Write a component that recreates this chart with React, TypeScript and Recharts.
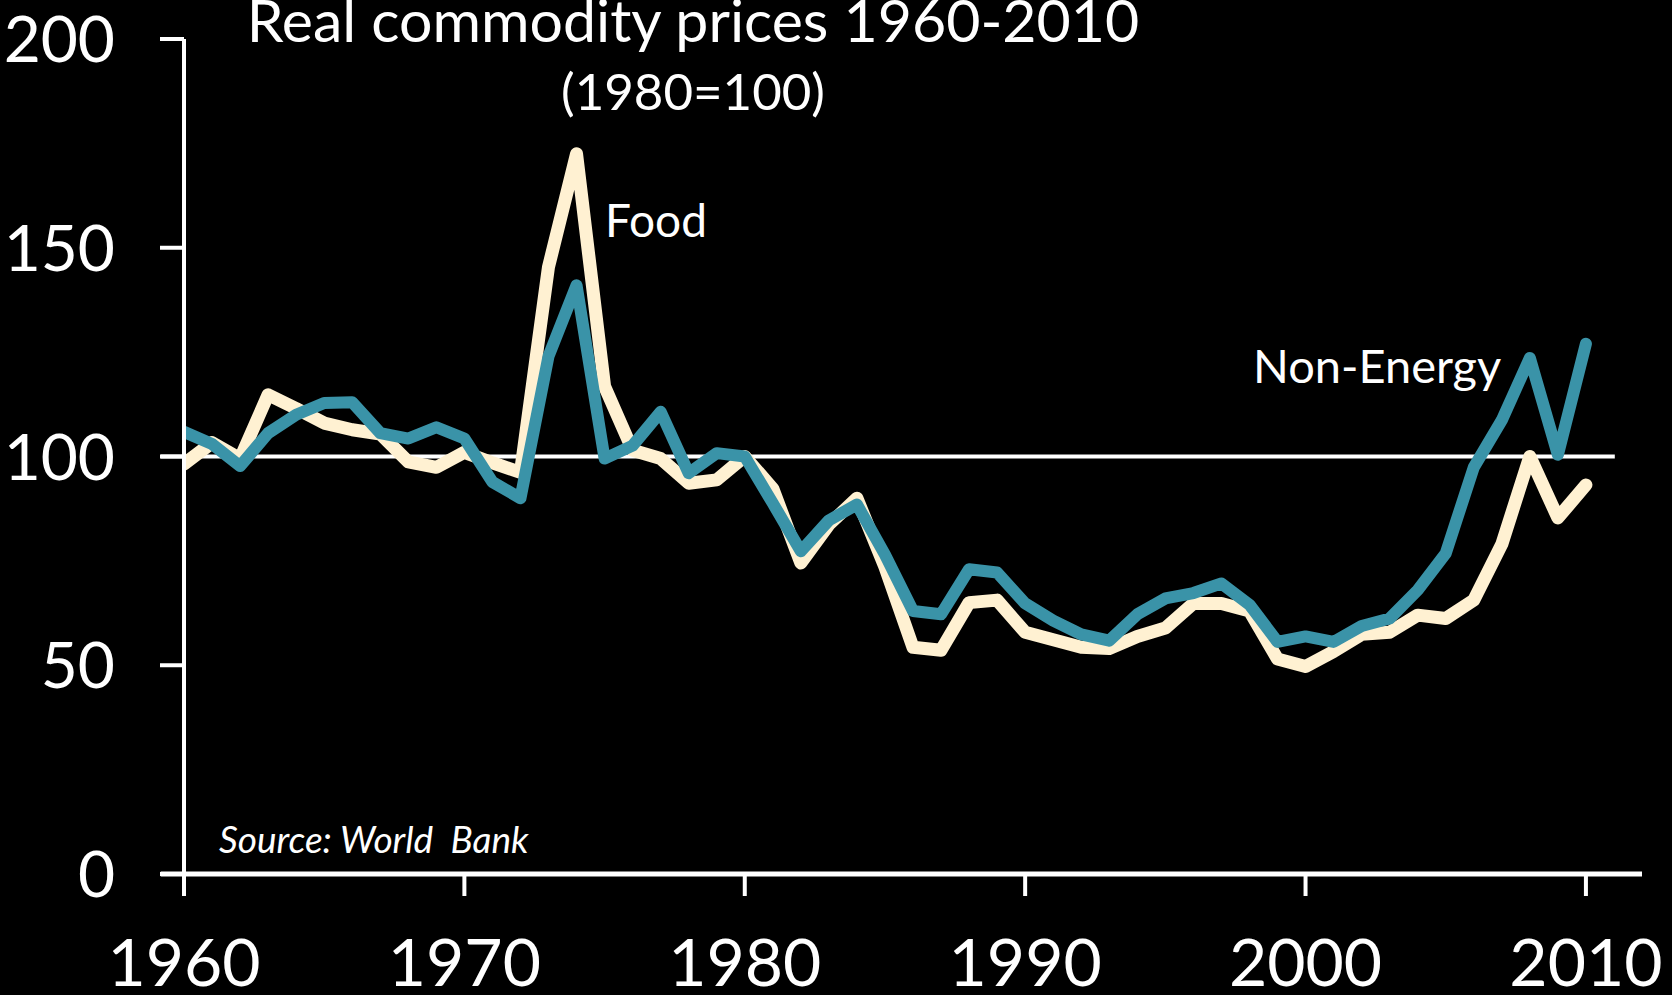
import React from "react";
import { LineChart, Line, XAxis, YAxis, ReferenceLine } from "recharts";

const years = [
  1960, 1961, 1962, 1963, 1964, 1965, 1966, 1967, 1968, 1969,
  1970, 1971, 1972, 1973, 1974, 1975, 1976, 1977, 1978, 1979,
  1980, 1981, 1982, 1983, 1984, 1985, 1986, 1987, 1988, 1989,
  1990, 1991, 1992, 1993, 1994, 1995, 1996, 1997, 1998, 1999,
  2000, 2001, 2002, 2003, 2004, 2005, 2006, 2007, 2008, 2009, 2010,
];

const food = [
  98.2, 103.3, 99.5, 114.8, 111.5, 108, 106.4, 105.4, 98.7, 97.4,
  101, 98.5, 96.2, 145.4, 172.5, 116.8, 101.5, 99.5, 93.6, 94.4,
  100, 92.3, 74.5, 83.7, 90, 73.5, 54.3, 53.6, 65, 65.6,
  57.9, 56.1, 54.3, 54, 56.9, 58.9, 64.8, 64.8, 63, 51.5,
  49.7, 53.3, 57.4, 57.9, 62, 61.2, 65.6, 79, 100, 85.3, 93.2,
];

const nonEnergy = [
  105.9, 103, 97.7, 105.6, 110, 112.8, 113, 105.6, 104.3, 107,
  104.3, 93.9, 90, 124, 141, 99.5, 102.6, 110.7, 96, 100.8,
  100, 88.8, 77.3, 84.7, 88.5, 76.5, 63, 62.2, 73, 72.2,
  64.8, 60.7, 57.4, 55.9, 62.2, 66, 67.3, 69.6, 64.5, 55.6,
  56.9, 55.6, 59.4, 61.2, 68, 76.8, 97.4, 108.7, 123.6, 100.4, 127,
];

const xTicks = [1960, 1970, 1980, 1990, 2000, 2010];
const yTicks = [0, 50, 100, 150, 200];

const data = years.map((year, i) => ({ year, food: food[i], nonEnergy: nonEnergy[i] }));

const FONT = "Lato, 'Open Sans', sans-serif";
const CREAM = "#FFF1D2";
const TEAL = "#3A93A8";

const YTick = (props: any) => {
  const { x, y, payload } = props;
  return (
    <text x={x - 45} y={y + 23} textAnchor="end" fill="#fff" fontSize={64} fontFamily={FONT}>
      {payload.value}
    </text>
  );
};

const XTick = (props: any) => {
  const { x, y, payload } = props;
  return (
    <text x={x} y={y + 90} textAnchor="middle" fill="#fff" fontSize={66} fontFamily={FONT}>
      {payload.value}
    </text>
  );
};

export default function App() {
  return (
    <div style={{ position: "fixed", left: 0, top: 0, width: 1672, height: 995, background: "#000", overflow: "hidden" }}>
      <LineChart
        width={1672}
        height={995}
        data={data}
        margin={{ top: 39, right: 30, bottom: 0, left: 24 }}
      >
        <XAxis
          dataKey="year"
          type="number"
          domain={[1960, 2012]}
          ticks={xTicks}
          allowDataOverflow
          height={121}
          tickSize={22}
          tickMargin={0}
          axisLine={false}
          tickLine={{ stroke: "#fff", strokeWidth: 4 }}
          tick={<XTick />}
        />
        <YAxis
          type="number"
          domain={[0, 200]}
          ticks={yTicks}
          width={160}
          tickSize={24}
          tickMargin={0}
          axisLine={{ stroke: "#fff", strokeWidth: 4 }}
          tickLine={{ stroke: "#fff", strokeWidth: 4 }}
          tick={<YTick />}
        />
        <ReferenceLine
          segment={[{ x: 1959.17, y: 100 }, { x: 2011.03, y: 100 }]}
          stroke="#fff"
          strokeWidth={4}
          ifOverflow="visible"
        />
        <ReferenceLine
          segment={[{ x: 1959.17, y: 0 }, { x: 2012, y: 0 }]}
          stroke="#fff"
          strokeWidth={5}
          ifOverflow="visible"
        />
        <Line
          dataKey="food"
          stroke={CREAM}
          strokeWidth={13}
          dot={false}
          isAnimationActive={false}
          strokeLinejoin="round"
          strokeLinecap="round"
          type="linear"
        />
        <Line
          dataKey="nonEnergy"
          stroke={TEAL}
          strokeWidth={12}
          dot={false}
          isAnimationActive={false}
          strokeLinejoin="round"
          strokeLinecap="round"
          type="linear"
        />
      </LineChart>
      <svg
        width={1672}
        height={995}
        style={{ position: "absolute", left: 0, top: 0, pointerEvents: "none" }}
      >
        <text x={693} y={42} textAnchor="middle" fill="#fff" fontSize={59} fontFamily={FONT}>
          Real commodity prices 1960-2010
        </text>
        <text x={693} y={110} textAnchor="middle" fill="#fff" fontSize={51} fontFamily={FONT}>
          (1980=100)
        </text>
        <text x={605} y={237} fill="#fff" fontSize={46} fontFamily={FONT}>
          Food
        </text>
        <text x={1253} y={383} fill="#fff" fontSize={47} fontFamily={FONT}>
          Non-Energy
        </text>
        <text
          x={219}
          y={853}
          fill="#fff"
          fontSize={37}
          fontStyle="italic"
          fontFamily={FONT}
          style={{ whiteSpace: "pre" }}
        >
          {"Source: World  Bank"}
        </text>
      </svg>
    </div>
  );
}
